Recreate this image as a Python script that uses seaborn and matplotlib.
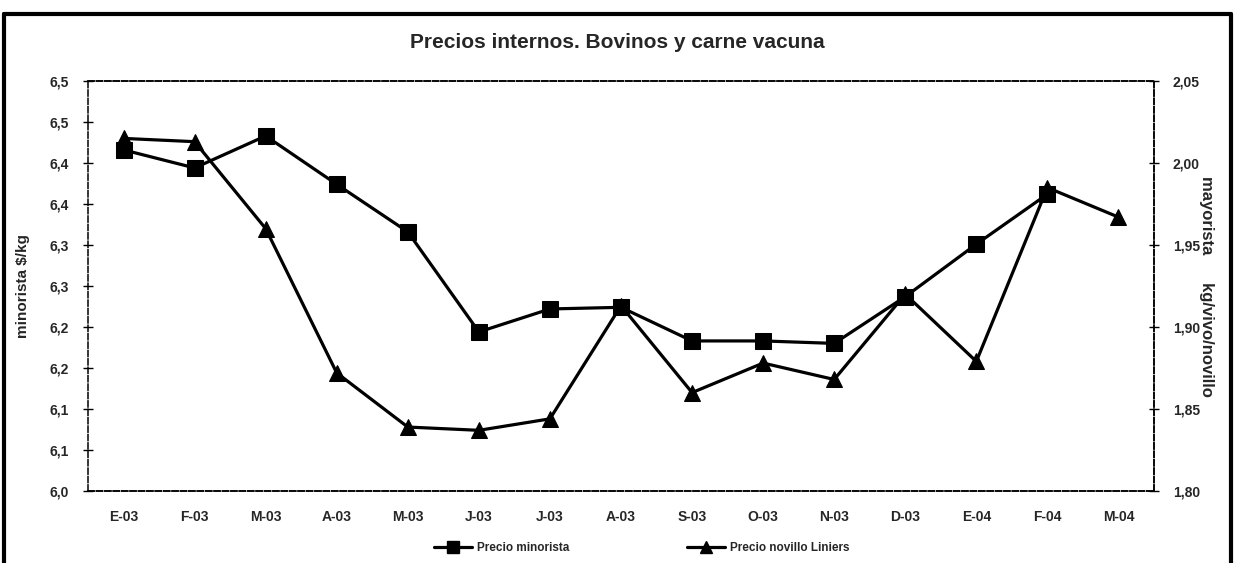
import numpy as np
import pandas as pd
import matplotlib
matplotlib.use("Agg")
import matplotlib.pyplot as plt
from matplotlib.lines import Line2D
import seaborn as sns

meses = ["E-03", "F-03", "M-03", "A-03", "M-03", "J-03", "J-03", "A-03",
         "S-03", "O-03", "N-03", "D-03", "E-04", "F-04", "M-04"]
# precio minorista ($/kg), no hay dato para M-04
minorista = [6.416, 6.394, 6.433, 6.374, 6.316, 6.194, 6.222, 6.224,
             6.183, 6.183, 6.180, 6.237, 6.301, 6.362, np.nan]
# precio novillo Liniers ($/kg vivo)
novillo = [2.015, 2.013, 1.960, 1.872, 1.839, 1.837, 1.844, 1.913,
           1.860, 1.878, 1.868, 1.920, 1.879, 1.985, 1.967]
izq_ticks = [6.00, 6.05, 6.10, 6.15, 6.20, 6.25, 6.30, 6.35, 6.40, 6.45, 6.50]
izq_labels = ["6,0", "6,1", "6,1", "6,2", "6,2", "6,3", "6,3", "6,4", "6,4", "6,5", "6,5"]
der_ticks = [1.80, 1.85, 1.90, 1.95, 2.00, 2.05]
der_labels = ["1,80", "1,85", "1,90", "1,95", "2,00", "2,05"]

df = pd.DataFrame({"x": np.arange(len(meses)), "minorista": minorista, "novillo": novillo})

sns.set_style("white")
plt.rcParams['font.family'] = ['Liberation Sans', 'DejaVu Sans']
plt.rcParams['font.weight'] = 'bold'

fig = plt.figure(figsize=(12.34, 5.63), dpi=100)
ax = fig.add_axes([88/1234, 1-491/563, (1154-88)/1234, (491-81)/563])
ax2 = ax.twinx()

sns.lineplot(data=df, x="x", y="minorista", ax=ax, color="black", lw=2.3,
             marker="s", markersize=12, markeredgecolor="black")
sns.lineplot(data=df, x="x", y="novillo", ax=ax2, color="black", lw=2.3,
             marker="^", markersize=12, markeredgecolor="black")

ax.set_xlim(-0.5, len(meses) - 0.5)
ax.set_ylim(6.0, 6.5)
ax2.set_ylim(1.80, 2.05)

ax.set_xticks(np.arange(-0.5, len(meses), 1))
ax.set_xticklabels([])
ax.set_xticks(np.arange(len(meses)), minor=True)
ax.set_xticklabels(meses, minor=True, fontsize=10, fontweight="bold")
ax.tick_params(axis="x", which="major", direction="out", length=4, width=1, color="black")
ax.tick_params(axis="x", which="minor", length=0, pad=14)

ax.set_yticks(izq_ticks)
ax.set_yticklabels(izq_labels, fontsize=10, fontweight="bold")
ax.tick_params(axis="y", direction="inout", length=7, width=1, color="black", pad=10)
ax2.set_yticks(der_ticks)
ax2.set_yticklabels(der_labels, fontsize=10, fontweight="bold")
ax2.tick_params(axis="y", direction="inout", length=7, width=1, color="black", pad=10)

ax.set_xlabel("")
ax.set_ylabel("minorista $/kg", fontsize=11, fontweight="bold", labelpad=14)
ax2.set_ylabel("mayorista      kg/vivo/novillo", fontsize=12, fontweight="bold",
               rotation=270, labelpad=10)

for a in (ax, ax2):
    for s in a.spines.values():
        s.set_color("black")
        s.set_linewidth(1.1)
        s.set_linestyle((0, (4, 1.5)))
ax2.spines["left"].set_visible(False)

fig.text(0.5, 1-43/563, "Precios internos. Bovinos y carne vacuna",
         ha="center", va="center", fontsize=15, fontweight="bold")

handles = [Line2D([], [], color="black", lw=2.3, marker="s", markersize=9),
           Line2D([], [], color="black", lw=2.3, marker="^", markersize=9)]
fig.legend(handles, ["Precio minorista", "Precio novillo Liniers"],
           loc="center", bbox_to_anchor=(0.52, 1-548/563), ncol=2, frameon=False,
           fontsize=8.5, handlelength=3.2, columnspacing=10, handletextpad=0.4)

# marco exterior
marco = dict(color="black", lw=3, transform=fig.transFigure, clip_on=False)
fig.add_artist(Line2D([4/1234, 4/1234], [0, 1-14/563], **marco))
fig.add_artist(Line2D([4/1234, 1231/1234], [1-14/563, 1-14/563], **marco))
fig.add_artist(Line2D([1231/1234, 1231/1234], [0, 1-14/563], **marco))

fig.savefig("out.png", dpi=100)
